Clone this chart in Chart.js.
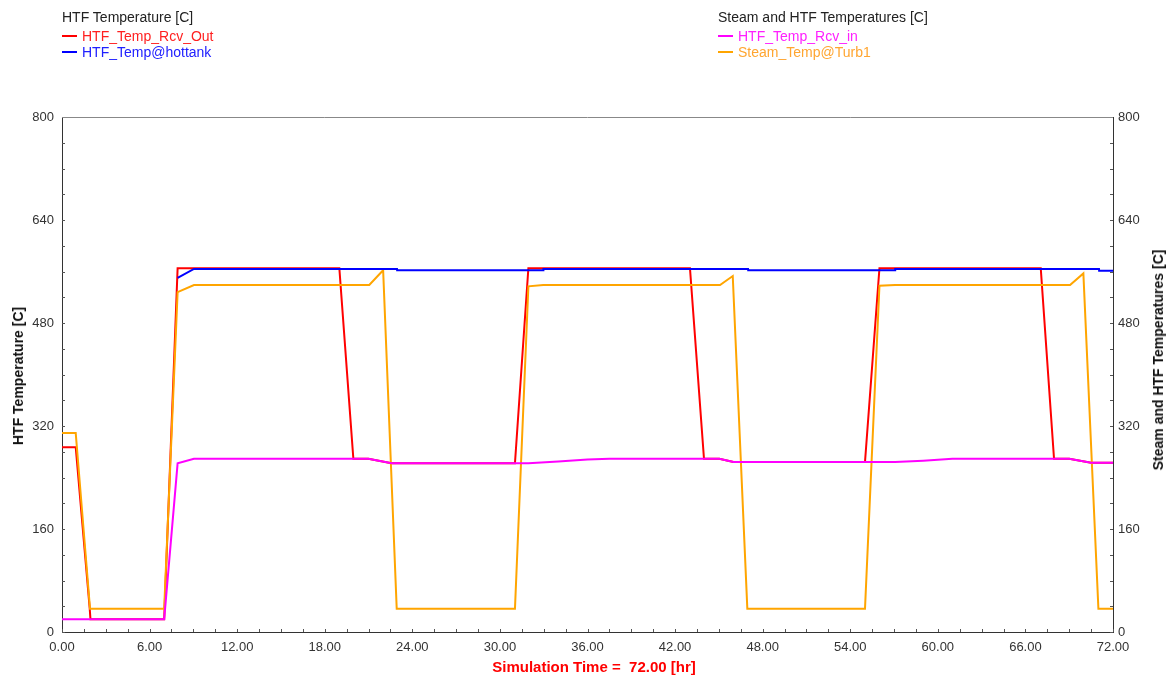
<!DOCTYPE html>
<html>
<head>
<meta charset="utf-8">
<script src="https://cdn.jsdelivr.net/npm/chart.js@4.4.1/dist/chart.umd.min.js"></script>
<style>
  html, body { margin: 0; padding: 0; background: #fff; }
  #wrap { position: relative; width: 1173px; height: 678px; font-family: "Liberation Sans", Arial, sans-serif; }
  #wrap canvas { position: absolute; left: 0; top: 0; }
  .lg { position: absolute; font-size: 14px; line-height: 16px; white-space: nowrap; }
  .sw { position: absolute; height: 2px; width: 15px; }
  .ttl { position: absolute; font-weight: bold; font-size: 14px; white-space: nowrap; }
</style>
</head>
<body>
<div id="wrap">
  <canvas id="c" width="1173" height="678"></canvas>

  <div class="lg" style="left:62px; top:9px; color:#222;">HTF Temperature [C]</div>
  <div class="sw" style="left:62px; top:35px; background:#ff0000;"></div>
  <div class="lg" style="left:82px; top:28px; color:#ff2020;">HTF_Temp_Rcv_Out</div>
  <div class="sw" style="left:62px; top:51px; background:#0000ff;"></div>
  <div class="lg" style="left:82px; top:44px; color:#2020ff;">HTF_Temp@hottank</div>

  <div class="lg" style="left:718px; top:9px; color:#222;">Steam and HTF Temperatures [C]</div>
  <div class="sw" style="left:718px; top:35px; background:#ff00ff;"></div>
  <div class="lg" style="left:738px; top:28px; color:#ff20ff;">HTF_Temp_Rcv_in</div>
  <div class="sw" style="left:718px; top:51px; background:#ffa500;"></div>
  <div class="lg" style="left:738px; top:44px; color:#ffa530;">Steam_Temp@Turb1</div>

  <div class="ttl" style="left:18px; top:376px; transform: translate(-50%,-50%) rotate(-90deg); color:#111;">HTF Temperature [C]</div>
  <div class="ttl" style="left:1158px; top:360px; transform: translate(-50%,-50%) rotate(-90deg); color:#111;">Steam and HTF Temperatures [C]</div>
  <div class="ttl" style="left:594px; top:666px; font-size:15px; transform: translate(-50%,-50%); color:#ff0000;">Simulation Time =&nbsp; 72.00 [hr]</div>
</div>
<script>
// ---- data (time in hr, temperature in C) ----
const rcvOutTime = [0, 0.94, 1.9, 1.95, 7.0, 7.92, 9.04, 19.0, 19.96, 20.99, 22.58, 31.03, 31.95, 43.02, 43.98, 45.03, 46.0, 55.01, 56.0, 67.05, 67.96, 69.0, 70.5, 72];
const rcvOutTemp = [287, 287, 36, 20, 20, 565, 565, 565, 269, 269, 262, 262, 565, 565, 269, 269, 264, 264, 565, 565, 269, 269, 263, 263];

const hotTankTime = [7.92, 9.04, 22.95, 22.96, 32.97, 32.98, 47.0, 47.01, 57.07, 57.08, 71.04, 71.05, 72];
const hotTankTemp = [550, 564, 564, 562, 562, 564, 564, 562, 562, 564, 564, 561, 561];

const rcvInTime = [0, 7.0, 7.92, 9.04, 20.99, 22.58, 31.95, 34.0, 36.0, 37.5, 45.03, 46.0, 57.07, 59.0, 61.0, 69.0, 70.5, 72];
const rcvInTemp = [20, 20, 262, 269, 269, 262, 262, 265, 268, 269, 269, 264, 264, 266, 269, 269, 263, 263];

const steamTime = [0, 0.94, 1.92, 7.0, 7.92, 9.04, 21.05, 22.0, 22.93, 31.03, 31.95, 32.97, 45.08, 45.95, 46.95, 55.01, 56.0, 57.07, 69.06, 69.97, 71.0, 72];
const steamTemp = [309, 309, 36, 36, 528, 539, 539, 562, 36, 36, 537, 539, 539, 553, 36, 36, 538, 539, 539, 557, 36, 36];

const xTicks = [0, 6, 12, 18, 24, 30, 36, 42, 48, 54, 60, 66, 72];
const yTicks = [0, 160, 320, 480, 640, 800];

function pts(t, v) { return t.map((x, i) => ({ x: x, y: v[i] })); }

const insideTicks = {
  id: 'insideTicks',
  afterDraw(chart) {
    const ctx = chart.ctx, a = chart.chartArea;
    const x = chart.scales.x, y = chart.scales.y;
    ctx.save();
    ctx.strokeStyle = '#555';
    ctx.lineWidth = 1;
    ctx.beginPath();
    for (let v = 0; v <= 800; v += 40) {
      const py = Math.round(y.getPixelForValue(v)) + 0.5;
      ctx.moveTo(a.left, py); ctx.lineTo(a.left + 3, py);
      ctx.moveTo(a.right, py); ctx.lineTo(a.right - 3, py);
    }
    for (let v = 0; v <= 72; v += 1.5) {
      const px = Math.round(x.getPixelForValue(v)) + 0.5;
      ctx.moveTo(px, a.bottom); ctx.lineTo(px, a.bottom - 3);
    }
    ctx.stroke();
    ctx.strokeStyle = '#888';
    ctx.beginPath();
    ctx.moveTo(a.left, Math.round(a.top) + 0.5);
    ctx.lineTo(a.right, Math.round(a.top) + 0.5);
    ctx.stroke();
    ctx.restore();
  }
};

const tickFont = { family: '"Liberation Sans", Arial, sans-serif', size: 13 };

new Chart(document.getElementById('c'), {
  type: 'line',
  data: {
    datasets: [
      { label: 'HTF_Temp_Rcv_Out', data: pts(rcvOutTime, rcvOutTemp), borderColor: '#ff0000', yAxisID: 'y', order: 3 },
      { label: 'HTF_Temp@hottank', data: pts(hotTankTime, hotTankTemp), borderColor: '#0000ff', yAxisID: 'y', order: 0 },
      { label: 'HTF_Temp_Rcv_in', data: pts(rcvInTime, rcvInTemp), borderColor: '#ff00ff', yAxisID: 'y2', order: 1 },
      { label: 'Steam_Temp@Turb1', data: pts(steamTime, steamTemp), borderColor: '#ffa500', yAxisID: 'y2', order: 2 }
    ]
  },
  options: {
    responsive: false,
    animation: false,
    elements: { point: { radius: 0 }, line: { borderWidth: 2, tension: 0 } },
    layout: { padding: { top: 117, left: 0, right: 0, bottom: 0 } },
    plugins: { legend: { display: false }, tooltip: { enabled: false } },
    scales: {
      x: {
        type: 'linear', min: 0, max: 72,
        afterBuildTicks: s => { s.ticks = xTicks.map(v => ({ value: v })); },
        afterFit: s => { s.height = 46; },
        grid: { display: false, drawTicks: false, tickLength: 0 },
        border: { display: true, color: '#333', width: 1 },
        ticks: { font: tickFont, color: '#333', padding: 8, maxRotation: 0, callback: v => Number(v).toFixed(2) }
      },
      y: {
        type: 'linear', position: 'left', min: 0, max: 800,
        afterBuildTicks: s => { s.ticks = yTicks.map(v => ({ value: v })); },
        afterFit: s => { s.width = 62; },
        grid: { display: false, drawTicks: false, tickLength: 0 },
        border: { display: true, color: '#333', width: 1 },
        ticks: { font: tickFont, color: '#333', padding: 8 }
      },
      y2: {
        type: 'linear', position: 'right', min: 0, max: 800,
        afterBuildTicks: s => { s.ticks = yTicks.map(v => ({ value: v })); },
        afterFit: s => { s.width = 60; },
        grid: { display: false, drawTicks: false, tickLength: 0 },
        border: { display: true, color: '#333', width: 1 },
        ticks: { font: tickFont, color: '#333', padding: 5 }
      }
    }
  },
  plugins: [insideTicks]
});
</script>
</body>
</html>
